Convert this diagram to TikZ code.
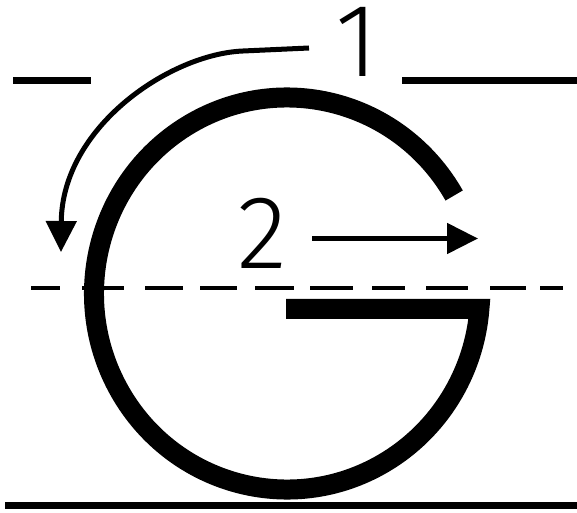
\documentclass[tikz,border=0pt]{standalone}
\usepackage{fontspec}
\newfontfamily\digitfont{Fira Sans Light}
\usetikzlibrary{arrows.meta}
\begin{document}
\begin{tikzpicture}[x=1pt,y=1pt,
  rule/.style={line width=7pt},
  guide/.style={line width=4pt},
  letter/.style={line width=20pt,line join=miter},
  arr/.style={line width=5pt,-{Triangle[length=31pt,width=30pt]}},
  digit/.style={inner sep=0pt,anchor=base,font=\digitfont\fontsize{104}{104}\selectfont}]
\useasboundingbox (0,0) rectangle (577,512);
% top guide lines
\draw[rule] (13,431.5) -- (91,431.5);
\draw[rule] (402,431.5) -- (577,431.5);
% bottom base line
\draw[rule] (5,6.5) -- (577,6.5);
% dashed middle line
\foreach \a/\b in {31/60,82/124,145/183,200/237,255/294,310/353,372/405,426/468,490/526,540/563}
  \draw[guide] (\a,224.5) -- (\b,224.5);
% the letter G
\draw[letter] ([shift={(287,218.5)}]30:193 and 196)
  arc[start angle=30,end angle=355.5,x radius=193,y radius=196] -- (286,203.1);
% labels
\node[digit] (n1) at (357,435) {1};
\node[digit] (n2) at (262,244) {2};
% stroke arrows
\coordinate (a1s) at (309,464);
\coordinate (a1m) at (243,461);
\coordinate (a1e) at (61,260);
\draw[arr] (a1s) -- (a1m) .. controls (170,458) and (62,385) .. (a1e);
\coordinate (a2s) at (312,273.5);
\coordinate (a2e) at (478,273.5);
\draw[arr] (a2s) -- (a2e);
\end{tikzpicture}
\end{document}
